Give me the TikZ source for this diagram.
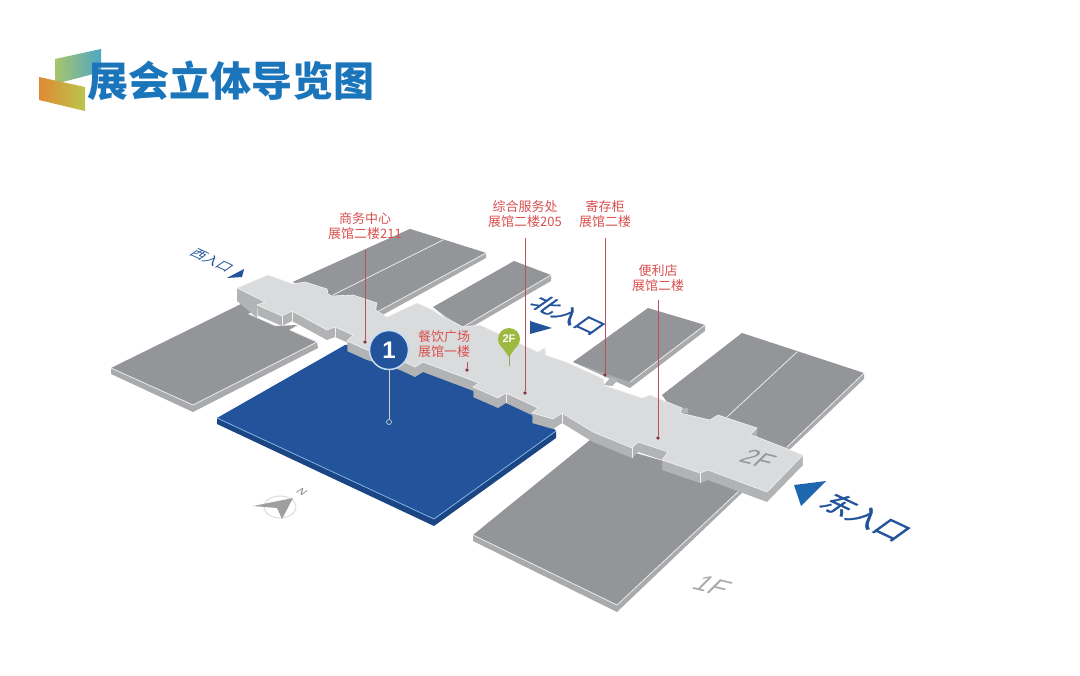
\documentclass[tikz,border=0pt]{standalone}
\usepackage{fontspec}
\newfontfamily\cjk{Noto Sans CJK SC}
\newfontfamily\cjkmid[FakeBold=1.2]{Noto Sans CJK SC}
\setmainfont{Liberation Sans}
\usetikzlibrary{arrows.meta, positioning, calc}

\definecolor{blocktop}{HTML}{939598}
\definecolor{blockside}{HTML}{A9AAAC}
\definecolor{halltop}{HTML}{DADBDC}
\definecolor{hallwall}{HTML}{B2B3B5}
\definecolor{navy}{HTML}{22539B}
\definecolor{navyside}{HTML}{1B4583}
\definecolor{navyedge}{HTML}{7FB2E5}
\definecolor{labelred}{HTML}{D9504F}
\definecolor{leadred}{HTML}{BC4E5A}
\definecolor{titleblue}{HTML}{1B75BB}
\definecolor{pingreen}{HTML}{9DB93F}
\definecolor{logoa}{HTML}{A9C56C}
\definecolor{logob}{HTML}{4DA7C6}
\definecolor{logoc}{HTML}{E08A35}
\definecolor{logod}{HTML}{B9C64C}

\def\hallpath{(237,288) -- (268,275) -- (293,284) -- (305,282) -- (327,289) -- (328,294) -- (332,296)
  -- (353,295) -- (377,303) -- (375,310) -- (387,317) -- (417,303) -- (433,310) -- (440,315) -- (463,327)
  -- (480,325) -- (538,352) -- (545,348) -- (545,355) -- (566,362) -- (604,379) -- (603,385) -- (642,398)
  -- (650,395) -- (682,408) -- (680,413) -- (710,420) -- (718,415) -- (757,428) -- (750,435) -- (757,437)
  -- (803,455) -- (767,492) -- (708,470) -- (700,473) -- (662,460) -- (668,452) -- (638,442) -- (632,448)
  -- (593,432) -- (562,413) -- (553,419) -- (532,413) -- (538,408) -- (506,393) -- (498,398) -- (473,387)
  -- (479,383) -- (423,362) -- (415,367) -- (400,360) -- (367,350) -- (347,341) -- (353,335) -- (335,327)
  -- (327,330) -- (292,311) -- (282,316) -- (257,305) -- (265,302) -- cycle}

\begin{document}
\begin{tikzpicture}[
    x=1pt, y=-1pt,
    sidefill/.style={fill=blockside},
    topfill/.style={fill=blocktop},
    edgeline/.style={draw=white!92!black, line width=0.8pt},
    callout/.style={font=\cjk\fontsize{13}{15.5}\selectfont, text=labelred, align=center, inner sep=1pt},
    leader/.style={draw=leadred, line width=1pt},
    leaddot/.style={circle, fill=leadred!70!black, minimum size=3.6pt, inner sep=0pt},
    floortext/.style={cm={.906,-.424,.81,.585,(0,0)}, transform shape, inner sep=0pt},
    floormark/.style={cm={.97,-.24,.72,.72,(0,0)}, transform shape, inner sep=0pt},
    entry/.style={fill=navy},
]
    \useasboundingbox (0,0) rectangle (1080,676);

    %==================== TITLE ====================
    \shade[left color=logoa, right color=logob]
        (55,59) -- (101,49) -- (101,72) -- (55,84) -- cycle;
    \shade[left color=logoc, right color=logod]
        (39,77) -- (85,87) -- (85,111) -- (39,100) -- cycle;
    \node[font=\cjk\bfseries\fontsize{41}{41}\selectfont, text=titleblue, inner sep=0pt] (title) at (231,81)
        {展会立体导览图};

    %==================== BLOCKS BEHIND THE HALL ====================
    \fill[sidefill] (293,282) -- (410,229) -- (486,253) -- (486,258) -- (377,318) -- (333,300) -- cycle;
    \fill[topfill] (293,282) -- (410,229) -- (486,253) -- (377,312) -- cycle;
    \draw[edgeline] (486,253) -- (377,312);
    \draw[edgeline] (443,240) -- (333,295);

    \fill[sidefill] (433,307) -- (551,275) -- (551,281) -- (463,332) -- cycle;
    \fill[topfill] (433,307) -- (514,261) -- (551,275) -- (463,327) -- cycle;
    \draw[edgeline] (551,275) -- (463,327);

    \fill[sidefill] (573,362) -- (705,325) -- (705,331) -- (630,388) -- cycle;
    \fill[topfill] (573,362) -- (648,308) -- (705,325) -- (630,382) -- cycle;
    \draw[edgeline] (705,325) -- (630,382);

    \fill[sidefill] (662,395) -- (864,373) -- (864,379) -- (787,452) -- (740,440) -- cycle;
    \fill[topfill] (662,395) -- (742,333) -- (864,373) -- (787,447) -- (757,445) -- (680,420) -- cycle;
    \draw[edgeline] (864,373) -- (787,447);
    \draw[edgeline] (797,352) -- (727,417);

    %==================== BLOCKS IN FRONT OF THE HALL ====================
    \fill[sidefill] (111,368) -- (193,405) -- (317,342) -- (318,348) -- (193,412) -- (111,374) -- cycle;
    \fill[topfill] (111,368) -- (243,303) -- (257,309) -- (249,314) -- (276,326) -- (298,325) -- (290,330)
        -- (317,342) -- (193,405) -- cycle;
    \draw[edgeline] (111,368) -- (193,405) -- (317,342) -- (290,330) -- (298,325);
    \draw[edgeline] (243,303) -- (257,309) -- (249,314) -- (276,326);
    \fill[white] (258,315) -- (277,323) -- (275,325) -- (256,317) -- cycle;

    \fill[sidefill] (473,535) -- (617,605) -- (740,490) -- (745,490) -- (617,612) -- (473,541) -- cycle;
    \fill[topfill] (473,535) -- (590,440) -- (730,480) -- (740,490) -- (617,605) -- cycle;
    \draw[edgeline] (473,535) -- (617,605) -- (740,490);

    %==================== BLUE HALL ====================
    \fill[navyside] (217,418) -- (434,519) -- (556,431) -- (556,438) -- (434,526) -- (217,424) -- cycle;
    \fill[navy] (217,418) -- (345,345) -- (400,340) -- (520,395) -- (553,428) -- (556,431) -- (434,519) -- cycle;
    \draw[navyedge, line width=0.8pt] (217,418) -- (434,519) -- (556,431);

    %==================== UPPER FLOOR ====================
    \foreach \h in {1,...,10}
        \fill[hallwall, yshift=-\h pt] \hallpath;
    \fill[hallwall] (237,288) -- (257,297) -- (257,318) -- (237,301) -- cycle;
    \fill[hallwall] (604,385) -- (611,377) -- (618,380) -- (612,386) -- cycle;
    \fill[hallwall] (538,352) -- (545,348) -- (545,355) -- cycle;
    \fill[hallwall] (682,408) -- (688,408) -- (688,413) -- (680,413) -- cycle;
    \fill[hallwall] (757,428) -- (757,437) -- (750,435) -- cycle;
    \fill[halltop, draw=white!95!black, line width=0.6pt] \hallpath;
    \foreach \corner in {(292,311),(335,327),(282,316),(506,393),(562,413),(700,473),(632,448)}
        \draw[white!95!black, line width=0.6pt] \corner -- ++(0,10);

    %==================== ENTRANCES ====================
    \fill[entry] (227,278) -- (244,269) -- (242,277) -- cycle;
    \node[floortext, font=\cjk\fontsize{14}{14}\selectfont, text=navy] (westgate) at (212,260) {西入口};
    \fill[entry] (530,321) -- (552,328) -- (530,334) -- cycle;
    \node[floortext, font=\cjkmid\fontsize{24}{24}\selectfont, text=navy] (northgate) at (568,315) {北入口};
    \fill[fill=titleblue!60!navy] (794,485) -- (826,481) -- (801,506) -- cycle;
    \node[floortext, font=\cjkmid\fontsize{29}{29}\selectfont, text=navy] (eastgate) at (866,517) {东入口};

    %==================== FLOOR MARKS ====================
    \node[floormark, font=\fontsize{25}{25}\selectfont, text=blocktop] (upperfloor) at (758,459) {2F};
    \node[floormark, font=\fontsize{27}{27}\selectfont, text=blockside] (lowerfloor) at (712,586) {1F};

    %==================== COMPASS ====================
    \draw[gray!30, line width=0.9pt] (280,507) ellipse (16 and 11);
    \fill[gray!75] (253,506) -- (293,498) -- (282,519) -- (277,508) -- cycle;
    \node[floortext, font=\fontsize{11}{11}\selectfont, text=gray] (north) at (302,492) {N};

    %==================== CALLOUTS ====================
    \node[callout] (office) at (365,226) {商务中心\\展馆二楼211};
    \node[leaddot] (officedot) at (365,342) {};
    \draw[leader, shorten <=9pt] (office.south) -- (officedot);

    \node[callout] (service) at (525,214) {综合服务处\\展馆二楼205};
    \node[leaddot] (servicedot) at (525,393) {};
    \draw[leader, shorten <=9pt] (service.south) -- (servicedot);

    \node[callout] (locker) at (605,214) {寄存柜\\展馆二楼};
    \node[leaddot] (lockerdot) at (605,375) {};
    \draw[leader, shorten <=9pt] (locker.south) -- (lockerdot);

    \node[callout] (shop) at (658,278) {便利店\\展馆二楼};
    \node[leaddot] (shopdot) at (658,438) {};
    \draw[leader, shorten <=7pt] (shop.south) -- (shopdot);

    \node[callout] (food) at (444,344) {餐饮广场\\展馆一楼};
    \node[leaddot] (fooddot) at (467,370) {};
    \coordinate (foodtop) at (467,362);
    \draw[leader] (foodtop) -- (fooddot);

    %==================== PINS ====================
    \node[circle, draw=gray!40!white, line width=0.7pt, inner sep=1.5pt, minimum size=5pt] (spot) at (389,422) {};
    \node[circle, fill=navy, draw=navyedge!45!white, line width=1.5pt, minimum size=39pt, inner sep=0pt,
          font=\bfseries\fontsize{24}{24}\selectfont, text=white] (badge) at (389,350) {1};
    \draw[gray!40!white, line width=0.8pt] (badge) -- (spot);

    \coordinate (pintip) at (509,366);
    \draw[pingreen!70!gray, line width=0.8pt] (509,350) -- (pintip);
    \fill[pingreen] (502,347) -- (516,347) -- (509,357) -- cycle;
    \node[circle, fill=pingreen, minimum size=22pt, inner sep=0pt,
          font=\bfseries\fontsize{11}{11}\selectfont, text=white] (upperpin) at (509,339) {2F};

\end{tikzpicture}
\end{document}
